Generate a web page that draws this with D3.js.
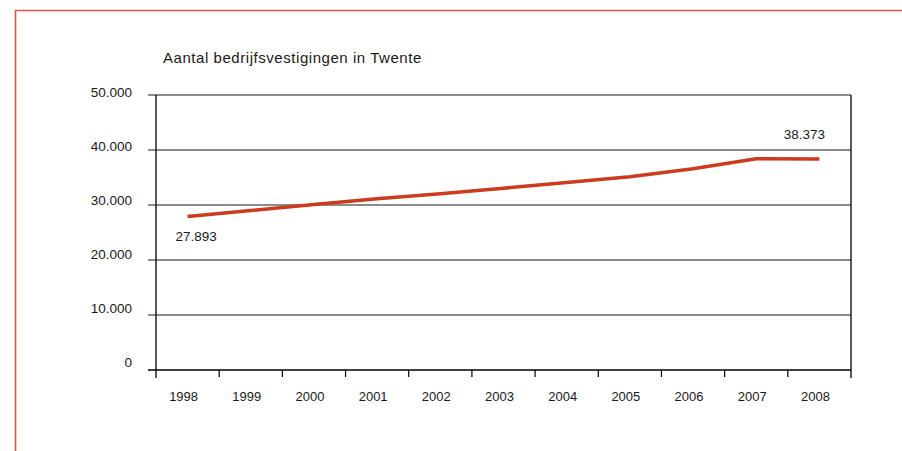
<!DOCTYPE html>
<html>
<head>
<meta charset="utf-8">
<script src="https://cdn.jsdelivr.net/npm/d3@7"></script>
<style>
  body { margin: 0; background: #fff; }
  svg text { font-family: "Liberation Sans", Arial, sans-serif; fill: #1a1a1a; }
</style>
</head>
<body>
<div id="chart"></div>
<script>
const years = ["1998", "1999", "2000", "2001", "2002", "2003", "2004", "2005", "2006", "2007", "2008"];
const vestigingen = [27893, 29000, 30100, 31150, 32050, 33050, 34100, 35150, 36600, 38390, 38373];
const yTicks = [0, 10000, 20000, 30000, 40000, 50000];
const title = "Aantal bedrijfsvestigingen in Twente";

const W = 902, H = 451;
const margin = { top: 95, right: 51, bottom: 81, left: 156 },
      width = W - margin.left - margin.right,
      height = H - margin.top - margin.bottom;

const svg = d3.select("#chart").append("svg")
    .attr("width", W)
    .attr("height", H);

// red frame
svg.append("path")
    .attr("d", `M15.5,${H} V10.5 H${W}`)
    .attr("fill", "none")
    .attr("stroke", "#dc5a44")
    .attr("stroke-width", 1.6);

svg.append("text")
    .attr("x", 163)
    .attr("y", 63)
    .style("font-size", "15px")
    .style("letter-spacing", "0.55px")
    .text(title);

const g = svg.append("g")
    .attr("transform", `translate(${margin.left},${margin.top})`);

const x = d3.scaleBand().domain(years).range([0, width]);
const y = d3.scaleLinear().domain([0, 50000]).range([height, 0]);
// labels sit slightly tighter than the gridlines in the original
const yLab = d3.scaleLinear().domain([0, 50000]).range([height - 2.7, 2.3]);
const fmt = d => d3.format(",")(d).replace(/,/g, ".");

// gridlines
g.selectAll(".grid").data(yTicks.filter(d => d > 0)).enter().append("line")
    .attr("x1", -8).attr("x2", width)
    .attr("y1", d => y(d)).attr("y2", d => y(d))
    .attr("stroke", "#666").attr("stroke-width", 1.4);

g.selectAll(".ylab").data(yTicks).enter().append("text")
    .attr("x", -24)
    .attr("y", d => yLab(d))
    .attr("text-anchor", "end")
    .style("font-size", "13.5px")
    .text(fmt);

// axes frame
g.append("line").attr("x1", 0).attr("x2", 0).attr("y1", 0).attr("y2", height + 8)
    .attr("stroke", "#000").attr("stroke-width", 1.3);
g.append("line").attr("x1", width).attr("x2", width).attr("y1", 0).attr("y2", height + 8)
    .attr("stroke", "#000").attr("stroke-width", 1.3);
g.append("line").attr("x1", -8).attr("x2", width).attr("y1", height).attr("y2", height)
    .attr("stroke", "#000").attr("stroke-width", 1.3);

// category ticks at band boundaries
g.selectAll(".xtick").data(years.slice(1)).enter().append("line")
    .attr("x1", d => x(d)).attr("x2", d => x(d))
    .attr("y1", height).attr("y2", height + 7)
    .attr("stroke", "#000").attr("stroke-width", 1.2);

g.selectAll(".xlab").data(years).enter().append("text")
    .attr("x", d => x(d) + x.bandwidth() / 2 - 4)
    .attr("y", height + 31)
    .attr("text-anchor", "middle")
    .style("font-size", "13px")
    .text(d => d);

const cx = (d, i) => x(years[i]) + x.bandwidth() / 2;

const line = d3.line()
    .x((d, i) => cx(d, i))
    .y(d => y(d));

g.append("path")
    .datum(vestigingen)
    .attr("d", line)
    .attr("fill", "none")
    .attr("stroke", "#cc3a1f")
    .attr("stroke-width", 3.5);

// value labels for first and last year
const first = 0, last = vestigingen.length - 1;
g.append("text")
    .attr("x", cx(vestigingen[first], first) + 8.5)
    .attr("y", y(vestigingen[first]) + 24)
    .attr("text-anchor", "middle")
    .style("font-size", "13.5px")
    .text(fmt(vestigingen[first]));
g.append("text")
    .attr("x", cx(vestigingen[last], last) - 15)
    .attr("y", y(vestigingen[last]) - 20)
    .attr("text-anchor", "middle")
    .style("font-size", "13.5px")
    .text(fmt(vestigingen[last]));
</script>
</body>
</html>
